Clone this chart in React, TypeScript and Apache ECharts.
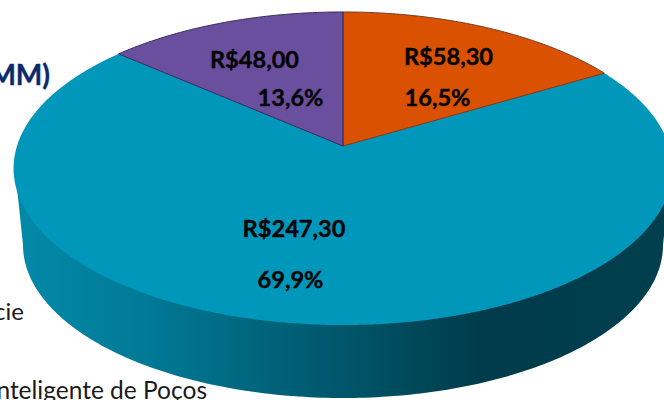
import React, { useEffect, useRef } from "react";
import * as echarts from "echarts";

const sliceNames = ["Laranja", "Azul", "Roxo"];
const sliceValues = [58.3, 247.3, 48.0];
const sliceColors = ["#DB5102", "#0097BB", "#6A4F9F"];
const sliceEdges = ["#6E3A20", "#0097BB", "#33285A"];

// label anchors, [x, y] of the two lines of each slice
const labelPlaces = [
  { money: [448.5, 56], pct: [437.5, 97] },
  { money: [294, 228], pct: [290.5, 279] },
  { money: [254.5, 59], pct: [290.5, 97] },
];

const APEX = { x: 343, y: 146 };
const TILT = 0.1438;
const SPREAD_X = 326;
const SPREAD_Y = 153.3;
const BOTTOM = { x: 343, y: 245, rx: 320, ry: 153 };
const TOP_EDGE = { cy: 168.5, rx: 328 };

function project(theta: number): number[] {
  const X = Math.sin(theta);
  const Y = Math.cos(theta);
  const d = 1 + TILT * Y;
  return [APEX.x + (SPREAD_X * X) / d, APEX.y - (SPREAD_Y * Y) / d];
}

const total = sliceValues.reduce((a, b) => a + b, 0);

function money(v: number) {
  return "R$" + v.toFixed(2).replace(".", ",");
}
function pct(v: number) {
  return ((v / total) * 100).toFixed(1).replace(".", ",") + "%";
}

export default function App() {
  const ref = useRef<HTMLDivElement>(null);
  useEffect(() => {
    document.body.style.margin = "0";
    const chart = echarts.init(ref.current!, null, { renderer: "svg" });
    const font = "Lato, Carlito, sans-serif";
    const textStyle = {
      fontFamily: font, fontWeight: "bold", fontSize: 23.6, fill: "#050505",
      stroke: "#050505", lineWidth: 0.4,
    };

    chart.setOption({
      animation: false,
      backgroundColor: "#fff",
      series: [
        {
          type: "custom",
          coordinateSystem: "none",
          silent: true,
          data: [[total]],
          renderItem: () => {
            const pts: number[][] = [[TOP_EDGE.rx * -1 + BOTTOM.x, TOP_EDGE.cy]];
            for (let a = 180; a >= 0; a -= 1) {
              const r = (a * Math.PI) / 180;
              pts.push([BOTTOM.x + BOTTOM.rx * Math.cos(r), BOTTOM.y + BOTTOM.ry * Math.sin(r)]);
            }
            pts.push([BOTTOM.x + TOP_EDGE.rx, TOP_EDGE.cy]);
            return {
              type: "polygon",
              shape: { points: pts },
              style: {
                fill: new echarts.graphic.LinearGradient(0, 0, 1, 0, [
                  { offset: 0, color: "#0489AA" },
                  { offset: 0.2, color: "#007A96" },
                  { offset: 0.43, color: "#005E74" },
                  { offset: 0.5, color: "#00566A" },
                  { offset: 0.71, color: "#003C4B" },
                  { offset: 1, color: "#003F4E" },
                ]),
              },
            };
          },
        },
        {
          type: "custom",
          coordinateSystem: "none",
          silent: true,
          data: sliceValues.map((v, i) => ({ name: sliceNames[i], value: [v, i] })),
          renderItem: (_p: any, api: any) => {
            const v = api.value(0);
            const i = api.value(1);
            const before = sliceValues.slice(0, i).reduce((a, b) => a + b, 0);
            const a0 = (before / total) * Math.PI * 2;
            const a1 = ((before + v) / total) * Math.PI * 2;
            const pts: number[][] = [[APEX.x, APEX.y]];
            const n = Math.ceil((a1 - a0) / 0.006);
            for (let k = 0; k <= n; k++) pts.push(project(a0 + ((a1 - a0) * k) / n));
            return {
              type: "polygon",
              z2: i === 1 ? 1 : 2,
              shape: { points: pts },
              style: { fill: sliceColors[i], stroke: sliceEdges[i], lineWidth: i === 1 ? 0 : 1 },
            };
          },
        },
      ],
      graphic: [
        ...sliceValues.flatMap((v, i) => [
          { type: "text", z: 10, x: labelPlaces[i].money[0], y: labelPlaces[i].money[1],
            style: { ...textStyle, text: money(v), textAlign: "center", textVerticalAlign: "middle" } },
          { type: "text", z: 10, x: labelPlaces[i].pct[0], y: labelPlaces[i].pct[1],
            style: { ...textStyle, text: pct(v), textAlign: "center", textVerticalAlign: "middle" } },
        ]),
        { type: "text", z: 10, x: 50, y: 74,
          style: { text: "MM)", fontFamily: font, fontWeight: "bold", fontSize: 28, fill: "#0B2A6B", stroke: "#0B2A6B", lineWidth: 0.4, textAlign: "right", textVerticalAlign: "middle" } },
        { type: "text", z: 10, x: 24, y: 310,
          style: { text: "cie", fontFamily: font, fontSize: 24, fill: "#1a1a1a", textAlign: "right", textVerticalAlign: "middle" } },
        { type: "text", z: 10, x: 207, y: 389,
          style: { text: "Inteligente de Poços", fontFamily: font, fontSize: 24.5, fill: "#1a1a1a", textAlign: "right", textVerticalAlign: "middle" } },
      ],
    });
    return () => chart.dispose();
  }, []);
  return <div ref={ref} style={{ width: 664, height: 400 }} />;
}
